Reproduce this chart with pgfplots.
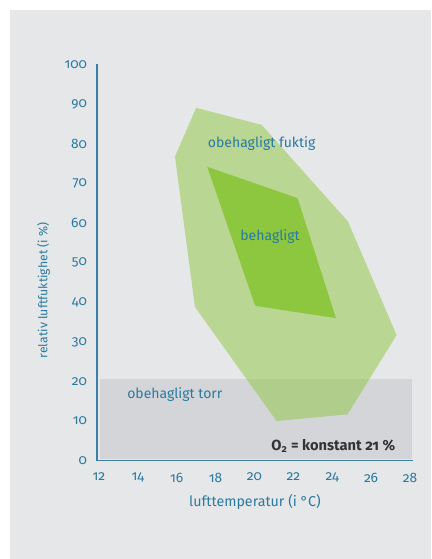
\documentclass[border=0pt]{standalone}
\usepackage{fontspec}
\setmainfont[Numbers=OldStyle]{Fira Sans}
\usepackage{pgfplots}
\pgfplotsset{compat=1.18}
\definecolor{panel}{HTML}{E6E7E9}
\definecolor{drybox}{HTML}{D4D5D9}
\definecolor{leaf}{HTML}{8DC63F}
\definecolor{txtblue}{HTML}{2A7AA0}
\definecolor{axblue}{HTML}{3C7FA6}
\definecolor{dark}{HTML}{333333}
\begin{document}
\begin{tikzpicture}
\useasboundingbox (0,0) rectangle (323.25pt,-419.25pt);
\fill[white] (0,0) rectangle (323.25pt,-419.25pt);
\fill[panel] (7.5pt,-7.5pt) rectangle (323.25pt,-419.25pt);
\begin{axis}[
  at={(72.75pt,-345.5pt)}, anchor=south west,
  x=14.58pt, y=2.97pt,
  xmin=11.9, xmax=28.15, ymin=0, ymax=100.1,
  axis lines=left,
  axis line style={-, axblue, line width=0.8pt},
  xtick={12,14,...,28}, ytick={0,10,...,100},
  major tick length=0pt,
  /pgf/number format/assume math mode=true,
  tick label style={font=\fontsize{10.3}{12}\selectfont, text=txtblue},
  yticklabel style={xshift=-4pt},
  xticklabel style={yshift=-5.5pt},
  xlabel={lufttemperatur (i °C)},
  ylabel={relativ luftfuktighet (i \%)},
  xlabel style={font=\fontsize{10.7}{12}\selectfont, text=txtblue, yshift=-2pt},
  ylabel style={font=\fontsize{9.2}{11}\selectfont, text=txtblue, at={(ticklabel cs:0.43)}, yshift=4pt},
  clip=false,
]
\addplot[fill=drybox, draw=none] coordinates {(12.05,0.5) (28.1,0.5) (28.1,20.7) (12.05,20.7)} --cycle;
\addplot[fill=leaf, fill opacity=0.5, draw=none] coordinates {
  (17.0,89.1) (20.37,84.8) (24.81,60.4) (27.31,31.7) (24.79,11.7) (21.14,10.0) (16.94,38.8) (15.91,76.8)} --cycle;
\addplot[fill=leaf, draw=none] coordinates {
  (17.57,74.2) (22.22,66.3) (24.19,36.0) (20.04,39.1)} --cycle;
\node[text=txtblue, font=\fontsize{10.5}{12}\selectfont] at (axis cs:20.37,80.2) {obehagligt fuktig};
\node[text=txtblue, font=\fontsize{10.5}{12}\selectfont] at (axis cs:20.8,56.6) {behagligt};
\node[text=txtblue, font=\fontsize{10.5}{12}\selectfont] at (axis cs:15.9,16.6) {obehagligt torr};
\node[text=dark, font=\bfseries\fontsize{11}{13}\selectfont, anchor=east] at (axis cs:27.48,3.8) {O\textsubscript{2} = konstant 21 \%};
\end{axis}
\end{tikzpicture}
\end{document}
